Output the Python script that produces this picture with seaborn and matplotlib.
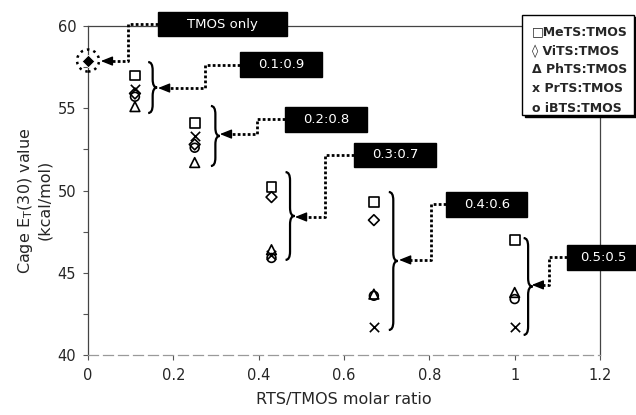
import numpy as np
import matplotlib
matplotlib.use("Agg")
import matplotlib.pyplot as plt
from matplotlib.path import Path
from matplotlib.patches import PathPatch, Rectangle
import seaborn as sns

# ---------------- data ----------------
x_ratio = [0.11, 0.25, 0.43, 0.67, 1.0]
mets = [57.0, 54.1, 50.2, 49.3, 47.0]
vits = [55.9, 52.8, 49.6, 48.2, np.nan]
phts = [55.1, 51.7, 46.4, 43.7, 43.8]
prts = [56.2, 53.3, 46.1, 41.7, 41.7]
ibts = [55.7, 52.6, 45.9, 43.6, 43.4]
tmos_x = [0.0]
tmos_y = [57.9]

legend_lines = ["\u25a1MeTS:TMOS", "\u25ca ViTS:TMOS", "\u0394 PhTS:TMOS",
                "x PrTS:TMOS", "\u03bf iBTS:TMOS"]
group_labels = ["TMOS only", "0.1:0.9", "0.2:0.8", "0.3:0.7", "0.4:0.6", "0.5:0.5"]
xtick_vals = [0, 0.2, 0.4, 0.6, 0.8, 1.0, 1.2]
xtick_labels = ["0", "0.2", "0.4", "0.6", "0.8", "1", "1.2"]
ytick_vals = [40, 45, 50, 55, 60]

# annotation geometry (data units)
box_cx = [0.315, 0.453, 0.558, 0.7195, 0.935, 1.207]
box_cy = [60.12, 57.66, 54.32, 52.16, 49.15, 45.93]
box_w = [0.302, 0.192, 0.192, 0.19, 0.19, 0.17]
box_h = 1.5
elbow_x = [0.094, 0.274, 0.396, 0.555, 0.804, 1.080]
tip_y = [57.87, 56.23, 53.43, 48.39, 45.78, 44.26]
tip_x = [0.030, 0.164, 0.309, 0.485, 0.729, 1.040]
brace_left = [0.141, 0.288, 0.463, 0.705, 1.021]
brace_top = [57.81, 55.14, 51.12, 49.91, 47.11]
brace_bot = [54.71, 51.49, 45.78, 41.52, 41.22]

# ---------------- figure ----------------
sns.set_style("ticks")
plt.rcParams["font.family"] = ["DejaVu Sans"]
plt.rcParams["mathtext.default"] = "regular"

fig = plt.figure(figsize=(6.36, 4.15), dpi=100)
ax = fig.add_axes([0.1384, 0.1446, 0.805, 0.7927])

mk = dict(s=49, linewidth=1.2, ax=ax, legend=False, zorder=4)
sns.scatterplot(x=x_ratio, y=mets, marker="s", facecolor="none", edgecolor="k", **mk)
sns.scatterplot(x=x_ratio, y=vits, marker="D", facecolor="none", edgecolor="k",
                **{**mk, "s": 30})
sns.scatterplot(x=x_ratio, y=phts, marker="^", facecolor="none", edgecolor="k", **mk)
sns.scatterplot(x=x_ratio, y=prts, marker="x", color="k", **{**mk, "s": 45})
sns.scatterplot(x=x_ratio, y=ibts, marker="o", facecolor="none", edgecolor="k",
                **{**mk, "s": 40})
sns.scatterplot(x=tmos_x, y=tmos_y, marker="D", color="k", s=40, ax=ax,
                legend=False, zorder=5, clip_on=False)
ax.scatter(tmos_x, tmos_y, s=250, facecolors="none", edgecolors="k",
           linestyles=":", linewidths=1.8, zorder=5, clip_on=False)

ax.set_xlim(0, 1.2)
ax.set_ylim(40, 60)
ax.set_xticks(xtick_vals)
ax.set_xticklabels(xtick_labels)
ax.set_yticks(ytick_vals)
ax.set_yticks([42.5, 47.5, 52.5, 57.5], minor=True)
ax.tick_params(axis="both", which="both", direction="out", length=3.5,
               width=0.8, color="#555555", labelsize=10.5, pad=5)
ax.tick_params(axis="x", pad=6)

for side in ["left", "top", "right"]:
    ax.spines[side].set_visible(True)
    ax.spines[side].set_color("#444444")
    ax.spines[side].set_linewidth(0.9)
ax.spines["bottom"].set_color("#9a9a9a")
ax.spines["bottom"].set_linewidth(0.9)
ax.spines["bottom"].set_linestyle((0, (8, 4)))

ax.set_xlabel("RTS/TMOS molar ratio", fontsize=11.5, labelpad=6)
ax.set_ylabel("Cage E$_T$(30) value\n(kcal/mol)", fontsize=11.5)
ax.yaxis.set_label_coords(-0.07, 0.47)

# braces
bw = 0.021
for xl, yt, yb in zip(brace_left, brace_top, brace_bot):
    ym = (yt + yb) / 2
    r = 0.5
    xm = xl + bw / 2
    verts = [(xl, yt), (xm, yt), (xm, yt - r),
             (xm, ym + r),
             (xm, ym), (xl + bw, ym),
             (xm, ym), (xm, ym - r),
             (xm, yb + r),
             (xm, yb), (xl, yb)]
    codes = [Path.MOVETO, Path.CURVE3, Path.CURVE3,
             Path.LINETO,
             Path.CURVE3, Path.CURVE3,
             Path.CURVE3, Path.CURVE3,
             Path.LINETO,
             Path.CURVE3, Path.CURVE3]
    ax.add_patch(PathPatch(Path(verts, codes), facecolor="none", edgecolor="k",
                           lw=1.6, zorder=4, clip_on=False))

# label boxes and connectors
for lab, cx, cy, w, ex, ty, tx in zip(group_labels, box_cx, box_cy, box_w,
                                      elbow_x, tip_y, tip_x):
    ax.add_patch(Rectangle((cx - w / 2, cy - box_h / 2), w, box_h,
                           facecolor="black", edgecolor="black", zorder=6,
                           clip_on=False))
    ax.text(cx, cy, lab, ha="center", va="center", color="white", fontsize=9.5,
            zorder=7, clip_on=False)
    left = cx - w / 2
    ax.plot([left, ex, ex, tx + 0.012], [cy, cy, ty, ty], color="k", lw=2,
            linestyle=(0, (1, 0.8)), zorder=5, clip_on=False)
    ax.annotate("", xy=(tx, ty), xytext=(tx + 0.022, ty),
                arrowprops=dict(arrowstyle="-|>,head_length=0.7,head_width=0.28",
                                color="k", lw=1, shrinkA=0, shrinkB=0),
                zorder=6, annotation_clip=False)

# legend box (text symbols)
W, H = 636.0, 415.0
fig.patches.append(Rectangle((525 / W, (H - 117) / H), 112 / W, 100 / H,
                             transform=fig.transFigure, facecolor="black",
                             edgecolor="black", zorder=8))
fig.patches.append(Rectangle((522 / W, (H - 115) / H), 112 / W, 100 / H,
                             transform=fig.transFigure, facecolor="white",
                             edgecolor="black", lw=1, zorder=9))
for i, line in enumerate(legend_lines):
    py = 31.7 + i * 19.1
    fig.text(532 / W, (H - py) / H, line, ha="left", va="center", fontsize=9,
             fontweight="bold", zorder=10)

fig.savefig("out.png", dpi=100)
